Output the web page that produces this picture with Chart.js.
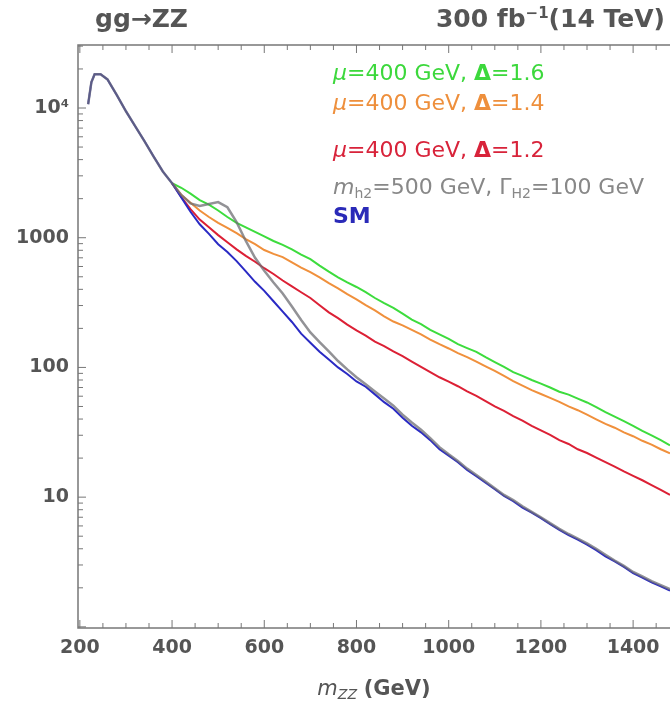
<!DOCTYPE html>
<html>
<head>
<meta charset="utf-8">
<script src="https://cdn.jsdelivr.net/npm/chart.js@4/dist/chart.umd.min.js"></script>
<style>
  body { margin: 0; background: #fff; }
  #wrap { position: relative; width: 670px; height: 704px; overflow: hidden; font-family: "DejaVu Sans", sans-serif; }
  canvas { position: absolute; left: 0; top: 0; }
  .lbl { position: absolute; white-space: nowrap; }
  .title { font-weight: bold; font-size: 25px; color: #555; top: 4px; }
  .leg { left: 333px; font-size: 22px; line-height: 26px; }
  .leg sub { font-size: 14px; vertical-align: -4px; }
  .xt { left: 78px; width: 592px; text-align: center; top: 676px; font-size: 21px; color: #555; }
</style>
</head>
<body>
<div id="wrap">
  <canvas id="c" width="670" height="704"></canvas>
  <div class="lbl title" style="left:95px">gg→ZZ</div>
  <div class="lbl title" style="right:5px">300 fb<sup style="font-size:15px">−1</sup>(14 TeV)</div>
  <div class="lbl leg" style="top:60px;color:#3cd83c"><i>μ</i>=400 GeV, <b>Δ</b>=1.6</div>
  <div class="lbl leg" style="top:90px;color:#ee8f3c"><i>μ</i>=400 GeV, <b>Δ</b>=1.4</div>
  <div class="lbl leg" style="top:137px;color:#d8233a"><i>μ</i>=400 GeV, <b>Δ</b>=1.2</div>
  <div class="lbl leg" style="top:174px;color:#888"><i>m</i><sub>h2</sub>=500 GeV, Γ<sub>H2</sub>=100 GeV</div>
  <div class="lbl leg" style="top:203px;color:#2a2ab8;font-weight:bold">SM</div>
  <div class="lbl xt"><i>m</i><sub style="font-size:14px;vertical-align:-4px"><i>ZZ</i></sub> <b>(GeV)</b></div>
</div>
<script>
// m_ZZ grid (GeV)
const mass = [218, 225, 232, 245, 260, 280, 300, 320, 340, 360, 380,
  400, 420, 440, 460, 480, 500, 520, 540, 560, 580, 600, 620, 640, 660, 680, 700,
  720, 740, 760, 780, 800, 820, 840, 860, 880, 900, 920, 940, 960, 980, 1000,
  1020, 1040, 1060, 1080, 1100, 1120, 1140, 1160, 1180, 1200, 1220, 1240, 1260, 1280, 1300,
  1320, 1340, 1360, 1380, 1400, 1420, 1440, 1460, 1480];

const sm = [10700, 15800, 18200, 18200, 16600, 12600, 9440, 7240, 5560, 4220, 3240,
  2630, 2040, 1585, 1270, 1070, 890, 776, 660, 550, 457, 389, 324, 269, 224, 182, 155,
  132, 115, 100, 89, 78, 71, 62, 54, 48, 41, 35.5, 31.6, 27.5, 23.4, 20.9,
  18.6, 16.2, 14.5, 12.9, 11.5, 10.2, 9.3, 8.3, 7.6, 6.9, 6.2, 5.6, 5.1, 4.7, 4.3,
  3.9, 3.5, 3.2, 2.9, 2.6, 2.4, 2.2, 2.05, 1.9];

const h2 = [10700, 15800, 18200, 18200, 16600, 12600, 9440, 7240, 5560, 4220, 3240,
  2630, 2138, 1841, 1758, 1820, 1884, 1718, 1318, 944, 700, 556, 452, 372, 295, 232, 186,
  157, 133, 112, 96.6, 84.1, 74.1, 65.3, 57.5, 50.7, 43.2, 37.6, 33.1, 28.5, 24.3, 21.4,
  19.0, 16.6, 14.8, 13.2, 11.7, 10.4, 9.5, 8.5, 7.7, 7.0, 6.3, 5.7, 5.2, 4.8, 4.4,
  4.0, 3.6, 3.25, 2.95, 2.65, 2.45, 2.25, 2.1, 1.95];

// mu = 400 GeV curves, from m_ZZ = 400 on
const d16 = [2630, 2427, 2188, 1950, 1799, 1622, 1445, 1303, 1202, 1109, 1023, 944, 881, 813, 741, 684,
  610, 548, 495, 452, 417, 380, 343, 313, 288, 260, 234, 216, 195, 180, 166,
  151, 141, 132, 120, 110, 101, 92, 86, 80, 75, 70, 65, 61.7, 57.5, 53.7,
  49.5, 45.2, 41.7, 38.5, 35.5, 32.4, 29.9, 27.5, 25.1];
const d14 = [2630, 2138, 1862, 1622, 1445, 1303, 1189, 1084, 977, 891, 804, 750, 708, 646, 589, 543,
  495, 447, 407, 367, 335, 302, 275, 248, 226, 211, 195, 180, 164, 151, 140,
  129, 120, 111, 102, 94, 86, 78.5, 72.4, 66.8, 62.4, 58.2, 54.3, 50.1, 46.8, 43.2,
  39.8, 36.7, 34.3, 31.6, 29.5, 27.2, 25.4, 23.4, 21.8];
const d12 = [2630, 2060, 1660, 1380, 1202, 1047, 923, 813, 724, 653, 582, 525, 468, 422, 380, 343,
  302, 266, 240, 214, 193, 176, 158, 146, 133, 122, 111, 101, 92, 84, 77.6,
  71.6, 65.3, 60.3, 55, 50.1, 46.2, 42.2, 38.9, 35.5, 32.7, 30.2, 27.5, 25.7, 23.4, 21.9,
  20.2, 18.6, 17.2, 15.8, 14.6, 13.5, 12.4, 11.4, 10.4];

const xTicks = [200, 400, 600, 800, 1000, 1200, 1400];
const yTicks = [10, 100, 1000, 10000];

const tickFont = { family: 'DejaVu Sans', size: 19, weight: 'bold' };
const start = mass.indexOf(400);
const pts = (arr, off = 0) => arr.map((v, i) => ({ x: mass[i + off], y: v }));

const line = (label, data, color, order, width = 2) =>
  ({ label, data, borderColor: color, borderWidth: width, pointRadius: 0, tension: 0, order });

const framePlugin = {
  id: 'frame',
  afterDraw(chart) {
    const { ctx, chartArea: a, scales: { x, y } } = chart;
    ctx.save();
    ctx.strokeStyle = '#777';
    ctx.lineWidth = 1.5;
    ctx.strokeRect(a.left, a.top, a.right - a.left + 10, a.bottom - a.top);
    ctx.lineWidth = 1;
    ctx.beginPath();
    for (let v = 200; v <= 1450; v += 50) {
      const px = x.getPixelForValue(v);
      const len = v % 200 === 0 ? 8 : 5;
      ctx.moveTo(px, a.bottom); ctx.lineTo(px, a.bottom - len);
      ctx.moveTo(px, a.top); ctx.lineTo(px, a.top + len);
    }
    for (let d = 1; d <= 10000; d *= 10) {
      for (let k = 1; k <= 9; k++) {
        const v = k * d;
        if (v < y.min || v > y.max) continue;
        const py = y.getPixelForValue(v);
        const len = k === 1 ? 8 : 5;
        ctx.moveTo(a.left, py); ctx.lineTo(a.left + len, py);
      }
    }
    ctx.stroke();
    ctx.restore();
  }
};

new Chart(document.getElementById('c'), {
  type: 'line',
  data: {
    datasets: [
      line('h2', pts(h2), 'rgba(110,110,115,0.75)', 0, 2.5),
      line('SM', pts(sm), '#2a2ac4', 1),
      line('d12', pts(d12, start), '#dc2035', 2),
      line('d14', pts(d14, start), '#f0903c', 3),
      line('d16', pts(d16, start), '#3ddc3d', 4),
    ],
  },
  options: {
    responsive: false,
    animation: false,
    layout: { padding: { top: 45, left: 0, right: 0, bottom: 0 } },
    plugins: { legend: { display: false }, tooltip: { enabled: false } },
    scales: {
      x: {
        type: 'linear', min: 196, max: 1480,
        afterBuildTicks: (s) => { s.ticks = xTicks.map(v => ({ value: v })); },
        afterFit: (s) => { s.height = 76; },
        grid: { display: false, drawTicks: false },
        border: { display: false },
        ticks: { color: '#555', font: tickFont, padding: 9, maxRotation: 0, autoSkip: false, callback: (v) => String(v) },
      },
      y: {
        type: 'logarithmic', min: 0.98, max: 30600,
        afterBuildTicks: (s) => { s.ticks = yTicks.map(v => ({ value: v })); },
        afterFit: (s) => { s.width = 78; },
        grid: { display: false, drawTicks: false },
        border: { display: false },
        ticks: { color: '#555', font: tickFont, padding: 9, callback: (v) => v === 10000 ? '10⁴' : String(v) },
      },
    },
  },
  plugins: [framePlugin],
});
</script>
</body>
</html>
